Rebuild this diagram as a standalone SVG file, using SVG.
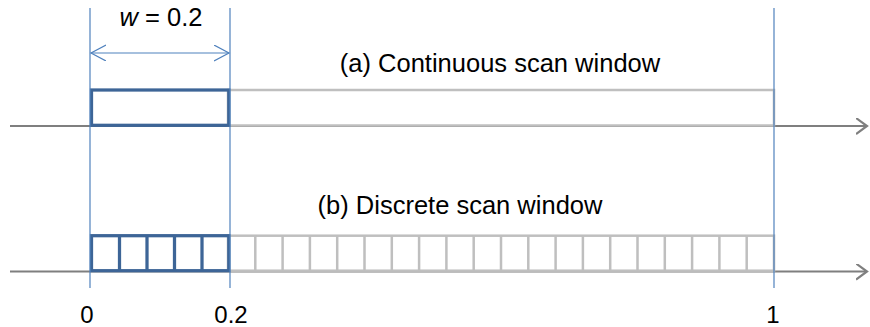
<svg xmlns="http://www.w3.org/2000/svg" width="870" height="327" viewBox="0 0 870 327">
<style>
.lbl{font-family:"Liberation Sans",Arial,sans-serif;font-size:25.5px;fill:#000}
.tick{font-size:24px}
.axis{stroke:#7f7f7f;stroke-width:2.2;fill:none}
.gray{stroke:#bfbfbf;stroke-width:2.5;fill:none}
.dark{stroke:#3d6597;stroke-width:3.25;fill:none}
.guide{stroke:#4f81bd;stroke-width:1.2;fill:none}
</style>
<defs>
<marker id="axArrow" markerWidth="14" markerHeight="20" refX="11" refY="8" orient="auto" markerUnits="userSpaceOnUse">
<path d="M0,0 L11,8 L0,16" fill="none" stroke="#7f7f7f" stroke-width="2.2"/>
</marker>
<marker id="dimArrow" markerWidth="18" markerHeight="20" refX="15" refY="8" orient="auto-start-reverse" markerUnits="userSpaceOnUse">
<path d="M0,0 L15,8 L0,16" fill="none" stroke="#4f81bd" stroke-width="1.2"/>
</marker>
</defs>
<g id="connectors">
<line id="axis-a" class="axis" x1="10" y1="126" x2="867" y2="126" marker-end="url(#axArrow)"/>
<line id="axis-b" class="axis" x1="10" y1="271.5" x2="867" y2="271.5" marker-end="url(#axArrow)"/>
</g>
<g id="window-a-full">
<rect class="gray" x="228" y="90" width="546" height="35.5"/>
</g>
<g id="window-b-full">
<rect class="gray" x="228" y="235.7" width="546" height="35"/>
<path class="gray" d="M255.3,235.7V270.7M282.6,235.7V270.7M309.9,235.7V270.7M337.2,235.7V270.7M364.5,235.7V270.7M391.8,235.7V270.7M419.1,235.7V270.7M446.4,235.7V270.7M473.7,235.7V270.7M501,235.7V270.7M528.3,235.7V270.7M555.6,235.7V270.7M582.9,235.7V270.7M610.2,235.7V270.7M637.5,235.7V270.7M664.8,235.7V270.7M692.1,235.7V270.7M719.4,235.7V270.7M746.7,235.7V270.7"/>
</g>
<g id="window-a">
<rect class="dark" x="91.5" y="90" width="137.3" height="35.3"/>
</g>
<g id="window-b">
<rect class="dark" x="91.5" y="235.7" width="137.3" height="35"/>
<path class="dark" d="M119.5,235.7V270.7M147,235.7V270.7M174.5,235.7V270.7M202,235.7V270.7"/>
</g>
<g id="guides">
<line class="guide" x1="90" y1="8" x2="90" y2="288"/>
<line class="guide" x1="230" y1="8" x2="230" y2="288"/>
<line class="guide" x1="774" y1="8" x2="774" y2="288"/>
</g>
<g id="width-dim">
<line class="guide" x1="91" y1="53" x2="229" y2="53" marker-start="url(#dimArrow)" marker-end="url(#dimArrow)"/>
<text class="lbl" x="161" y="26" text-anchor="middle"><tspan font-style="italic">w</tspan> = 0.2</text>
</g>
<g id="titles">
<text class="lbl" x="500" y="72" text-anchor="middle">(a) Continuous scan window</text>
<text class="lbl" x="460" y="214" text-anchor="middle">(b) Discrete scan window</text>
</g>
<g id="ticks">
<text class="lbl tick" x="87" y="323" text-anchor="middle">0</text>
<text class="lbl tick" x="231" y="323" text-anchor="middle">0.2</text>
<text class="lbl tick" x="773" y="323" text-anchor="middle">1</text>
</g>
</svg>
